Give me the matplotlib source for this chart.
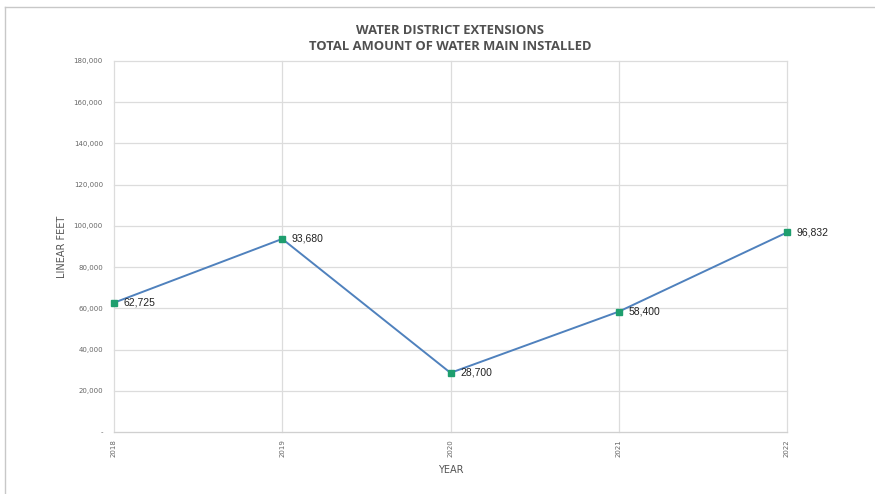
import matplotlib
matplotlib.use("Agg")
import matplotlib.pyplot as plt
from matplotlib.ticker import FuncFormatter, MultipleLocator
from matplotlib.lines import Line2D

years = ["2018", "2019", "2020", "2021", "2022"]
feet = [62725, 93680, 28700, 58400, 96832]
title_lines = ["WATER DISTRICT EXTENSIONS", "TOTAL AMOUNT OF WATER MAIN INSTALLED"]

fig = plt.figure(figsize=(8.75, 4.94), dpi=100)
ax = fig.add_axes([114/875, 1-432/494, (787-114)/875, (432-61)/494])

x = list(range(len(years)))
ax.plot(x, feet, color="#4f81bd", lw=1.4, zorder=3)
ax.plot(x, feet, ls="none", marker="s", ms=5, color="#1e9e6e", zorder=4, clip_on=False)
for xi, v in zip(x, feet):
    ax.annotate(f"{v:,}", (xi, v), xytext=(7, 0), textcoords="offset points",
                va="center", ha="left", fontsize=7.5, color="#222222", family="Liberation Sans")

ax.set_xlim(0, len(years)-1)
ax.set_ylim(0, 180000)
ax.yaxis.set_major_locator(MultipleLocator(20000))
ax.yaxis.set_major_formatter(FuncFormatter(lambda v, p: "-" if v == 0 else f"{int(v):,}"))
ax.set_xticks(x)
ax.set_xticklabels(years, rotation=90, fontsize=5, color="#666666")
ax.tick_params(axis="y", labelsize=5, colors="#666666", length=0, pad=8)
ax.tick_params(axis="x", length=0, pad=5)
ax.grid(True, color="#dcdcdc", lw=0.9)
for gl in ax.get_xgridlines() + ax.get_ygridlines():
    gl.set_clip_on(False)
ax.set_axisbelow(True)
for s in ["top", "right", "left"]:
    ax.spines[s].set_visible(False)
ax.spines["bottom"].set_color("#d0d0d0")

ax.set_ylabel("LINEAR FEET", fontsize=7, color="#555555", labelpad=5)
ax.set_xlabel("YEAR", fontsize=7, color="#555555", labelpad=6)

for ty, t in zip([30, 47], title_lines):
    fig.text(450/875, 1-ty/494, t, ha="center", va="center", fontsize=9.4,
             color="#505050", fontweight="bold", family="Open Sans")

fig.add_artist(Line2D([5/875, 1], [1-7/494, 1-7/494], color="#c8c8c8", lw=1, transform=fig.transFigure))
fig.add_artist(Line2D([5/875, 5/875], [1-7/494, 0], color="#c8c8c8", lw=1, transform=fig.transFigure))

fig.savefig("out.png", dpi=100)
